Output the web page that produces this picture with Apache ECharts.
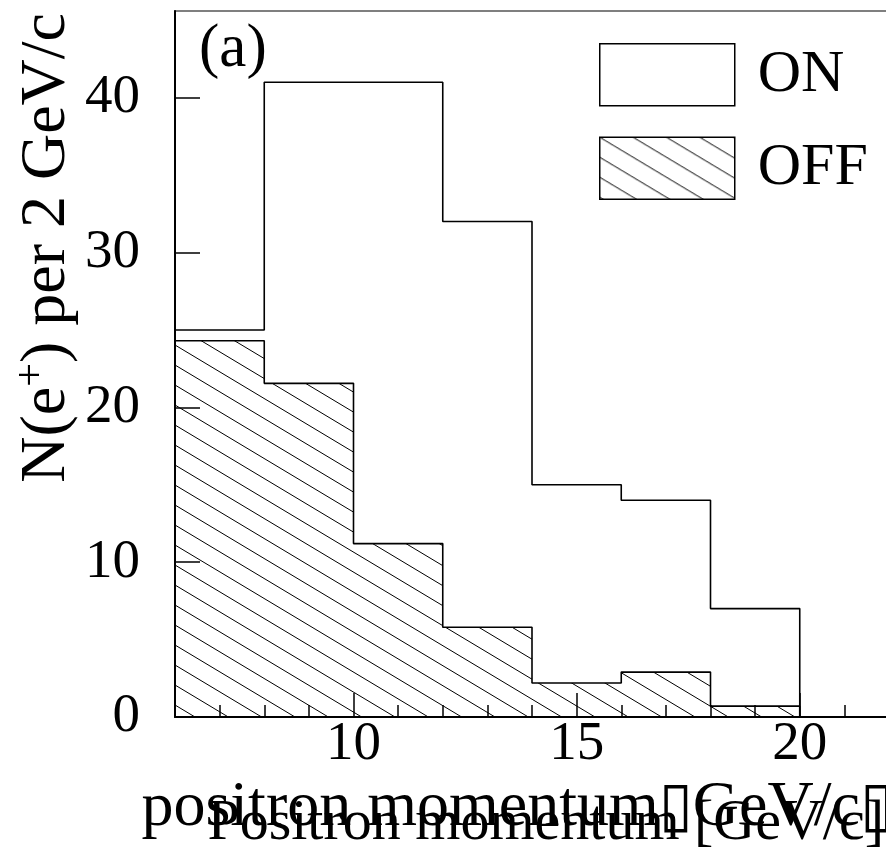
<!DOCTYPE html>
<html>
<head>
<meta charset="utf-8">
<script src="https://cdn.jsdelivr.net/npm/echarts@6/dist/echarts.min.js"></script>
<style>
  html, body { margin: 0; padding: 0; background: #fff; }
  #chart { width: 886px; height: 850px; }
</style>
</head>
<body>
<div id="chart"></div>
<script>
// Histogram binning (2 GeV/c bins) and contents
const binEdges = [6, 8, 10, 12, 14, 16, 18, 20, 22];
const onCounts = [25, 41, 41, 32, 15, 14, 7, 0];
const offCounts = [24.3, 21.55, 11.2, 5.8, 2.2, 2.9, 0.7, 0];

// Axis tick positions
const xMajorTicks = [10, 15, 20];
const xMinorTicks = [7, 8, 9, 11, 12, 13, 14, 16, 17, 18, 19, 21];
const yTicks = [0, 10, 20, 30, 40];

const FONT = 'Liberation Serif';

// Step-line vertices: one point per bin low edge, closed at the last upper edge
function stepPoints(counts) {
  const pts = counts.map((v, i) => [binEdges[i], v]);
  pts.push([binEdges[binEdges.length - 1], counts[counts.length - 1]]);
  return pts;
}

// Seamless diagonal hatch tile (period 100 x 20, lines falling to the right)
function hatchTile() {
  const c = document.createElement('canvas');
  c.width = 100;
  c.height = 20;
  const g = c.getContext('2d');
  g.strokeStyle = '#000';
  g.lineWidth = 1;
  for (let k = -5; k <= 1; k++) {
    g.beginPath();
    g.moveTo(-10, -6 + 20 * k);
    g.lineTo(110, 66 + 20 * k);
    g.stroke();
  }
  return c;
}
const hatch = { image: hatchTile(), repeat: 'repeat' };

const chart = echarts.init(document.getElementById('chart'), null, { renderer: 'canvas' });

chart.setOption({
  backgroundColor: '#fff',
  animation: false,
  title: {
    text: '(a)',
    left: 199,
    top: 19,
    padding: 0,
    textStyle: { fontFamily: FONT, fontSize: 61, fontWeight: 'normal', color: '#000' }
  },
  legend: {
    orient: 'vertical',
    left: 599,
    top: 43,
    padding: 0,
    itemWidth: 135,
    itemHeight: 62,
    itemGap: 30,
    selectedMode: false,
    textStyle: { fontFamily: FONT, fontSize: 60, color: '#000', padding: [0, 0, 0, 18] },
    data: [
      { name: 'ON', icon: 'rect', itemStyle: { color: '#fff', borderColor: '#000', borderWidth: 1.5 } },
      { name: 'OFF', icon: 'rect', itemStyle: { color: hatch, borderColor: '#000', borderWidth: 1.5 } }
    ]
  },
  grid: {
    left: 175,
    top: 11,
    right: -3,
    bottom: 133,
    show: true,
    borderColor: '#555',
    borderWidth: 1.5,
    backgroundColor: 'transparent',
    containLabel: false,
    outerBoundsMode: 'none'
  },
  xAxis: [
    {
      type: 'value',
      min: 6,
      max: 22,
      position: 'bottom',
      axisLine: { show: true, onZero: false, lineStyle: { color: '#000', width: 2 } },
      axisTick: { show: true, inside: true, length: 24, customValues: xMajorTicks, lineStyle: { color: '#000', width: 1.5 } },
      axisLabel: { show: true, customValues: xMajorTicks, margin: 0, fontFamily: FONT, fontSize: 55, color: '#000' },
      splitLine: { show: false },
      name: '{a|positron momentum}{b|▯}{a|GeV/c}{b|▯}',
      nameLocation: 'end',
      nameGap: 5,
      nameMoveOverlap: false,
      nameTextStyle: {
        align: 'right',
        verticalAlign: 'top',
        padding: [59, 0, 0, 0],
        rich: {
          a: { fontFamily: FONT, fontSize: 64, color: '#000', lineHeight: 65 },
          b: { fontFamily: 'DejaVu Sans', fontSize: 62, color: '#000', lineHeight: 65 }
        }
      }
    },
    {
      type: 'value',
      min: 6,
      max: 22,
      position: 'bottom',
      axisLine: { show: false, onZero: false },
      axisTick: { show: true, inside: true, length: 12, customValues: xMinorTicks, lineStyle: { color: '#000', width: 1.5 } },
      axisLabel: { show: false },
      splitLine: { show: false },
      name: 'Positron momentum [GeV/c]',
      nameLocation: 'end',
      nameGap: -5,
      nameMoveOverlap: false,
      nameTextStyle: { fontFamily: FONT, fontSize: 58, color: '#000', align: 'right', verticalAlign: 'top', lineHeight: 58, padding: [78, 0, 0, 0] }
    }
  ],
  yAxis: {
    type: 'value',
    min: 0,
    max: 45.6,
    position: 'left',
    axisLine: { show: true, onZero: false, lineStyle: { color: '#000', width: 2 } },
    axisTick: { show: true, inside: true, length: 25, customValues: yTicks, lineStyle: { color: '#000', width: 1.5 } },
    axisLabel: { show: true, customValues: yTicks, margin: 35, fontFamily: FONT, fontSize: 55, color: '#000', padding: [0, 0, 14, 0] },
    splitLine: { show: false },
    name: '{a|N(e}{s|+}{a|) per 2 GeV/c}',
    nameLocation: 'end',
    nameRotate: 90,
    nameGap: -2,
    nameMoveOverlap: false,
    nameTextStyle: {
      align: 'right',
      verticalAlign: 'bottom',
      padding: [0, 0, 92, 0],
      rich: {
        a: { fontFamily: FONT, fontSize: 64, color: '#000', lineHeight: 72 },
        s: { fontFamily: FONT, fontSize: 42, color: '#000', lineHeight: 36, verticalAlign: 'top' }
      }
    }
  },
  series: [
    {
      name: 'OFF',
      type: 'line',
      step: 'end',
      xAxisIndex: 0,
      yAxisIndex: 0,
      data: stepPoints(offCounts),
      symbol: 'none',
      lineStyle: { color: '#000', width: 1.6 },
      areaStyle: { color: hatch, opacity: 1 },
      z: 2
    },
    {
      name: 'ON',
      type: 'line',
      step: 'end',
      xAxisIndex: 0,
      yAxisIndex: 0,
      data: stepPoints(onCounts),
      symbol: 'none',
      lineStyle: { color: '#000', width: 1.6 },
      z: 3
    }
  ]
});
</script>
</body>
</html>
